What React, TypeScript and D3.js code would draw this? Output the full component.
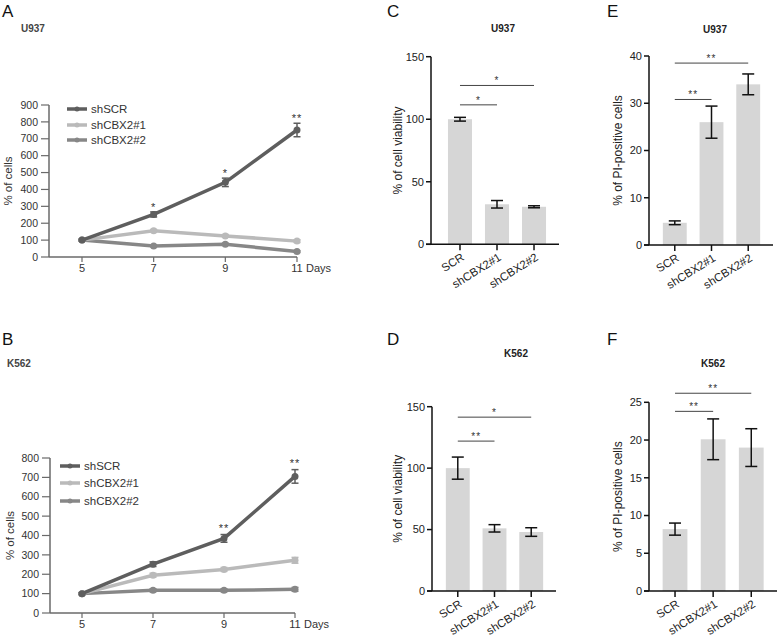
import React from "react";
import * as d3 from "d3";

const days = [5, 7, 9, 11];
const seriesNames = ["shSCR", "shCBX2#1", "shCBX2#2"];
const seriesColors = ["#5e5e5e", "#bababa", "#878787"];

// Panel A (U937 growth)
const aSCR = [100, 252, 442, 752];
const aSCRerr = [5, 15, 25, 40];
const aCBX1 = [100, 155, 125, 94];
const aCBX1err = [5, 8, 8, 8];
const aCBX2 = [100, 65, 76, 32];
const aCBX2err = [5, 5, 5, 5];
const aStars = ["", "*", "*", "**"];

// Panel B (K562 growth)
const bSCR = [100, 252, 385, 705];
const bSCRerr = [5, 12, 20, 35];
const bCBX1 = [100, 195, 225, 272];
const bCBX1err = [5, 10, 10, 15];
const bCBX2 = [100, 117, 117, 122];
const bCBX2err = [5, 8, 8, 10];
const bStars = ["", "", "**", "**"];

const barCats = ["SCR", "shCBX2#1", "shCBX2#2"];
const cVals = [100, 32, 30];
const cErr = [1.5, 3, 0.8];
const dVals = [100, 51, 48];
const dErr = [9, 3, 3.5];
const eVals = [4.7, 26, 34];
const eErr = [0.4, 3.4, 2.2];
const fVals = [8.2, 20.1, 19];
const fErr = [0.8, 2.7, 2.5];

const cTicks = [0, 50, 100, 150];
const dTicks = [0, 50, 100, 150];
const eTicks = [0, 10, 20, 30, 40];
const fTicks = [0, 5, 10, 15, 20, 25];
const aTicks = [0, 100, 200, 300, 400, 500, 600, 700, 800, 900];
const bTicks = [0, 100, 200, 300, 400, 500, 600, 700, 800];

// significance brackets: [fromIdx, toIdx, yValue, label]
const cSig: [number, number, number, string][] = [[0, 1, 111.5, "*"], [0, 2, 127, "*"]];
const dSig: [number, number, number, string][] = [[0, 1, 122, "**"], [0, 2, 141.5, "*"]];
const eSig: [number, number, number, string][] = [[0, 1, 30.8, "**"], [0, 2, 38.5, "**"]];
const fSig: [number, number, number, string][] = [[0, 1, 23.8, "**"], [0, 2, 26.2, "**"]];

const FONT = "Liberation Sans, Arial, Helvetica, sans-serif";

type LineProps = {
  title: string;
  titleX: number;
  titleY: number;
  yDomainMax: number;
  yRange: [number, number];
  xRange: [number, number];
  axisX: number;
  ticks: number[];
  series: number[][];
  errs: number[][];
  stars: string[];
  starOffset: number;
  legendX: number;
  legendY: number[];
  labelX: number;
};

function LinePanel(p: LineProps) {
  const y = d3.scaleLinear().domain([0, p.yDomainMax]).range(p.yRange);
  const x = d3.scaleLinear().domain([5, 11]).range(p.xRange);
  const axisY = y(0);
  const axisColor = "#6a6a6a";
  const line = d3
    .line<number>()
    .x((_, i) => x(days[i]))
    .y((v) => y(v));
  return (
    <g fontFamily={FONT}>
      <text x={p.titleX} y={p.titleY} fontSize={10} fontWeight="bold" fill="#444">
        {p.title}
      </text>
      {/* y axis */}
      <line x1={p.axisX} x2={p.axisX} y1={y(p.yDomainMax)} y2={axisY} stroke={axisColor} strokeWidth={1.5} />
      {p.ticks.map((t) => (
        <g key={t}>
          <line x1={p.axisX - 8} x2={p.axisX} y1={y(t)} y2={y(t)} stroke={axisColor} strokeWidth={1.2} />
          <text x={p.axisX - 11} y={y(t)} dy="0.35em" textAnchor="end" fontSize={10.5} fill="#333">
            {t}
          </text>
        </g>
      ))}
      {/* x axis */}
      <line x1={p.axisX} x2={x(11)} y1={axisY} y2={axisY} stroke={axisColor} strokeWidth={1.5} />
      {days.map((d) => (
        <g key={d}>
          <line x1={x(d)} x2={x(d)} y1={axisY} y2={axisY + 5} stroke={axisColor} strokeWidth={1.2} />
          <text x={x(d)} y={axisY + 15} textAnchor="middle" fontSize={11} fill="#333">
            {d}
          </text>
        </g>
      ))}
      <text x={x(11) + 9} y={axisY + 15} fontSize={11} fill="#333">
        Days
      </text>
      <text
        transform={`translate(${p.labelX},${(y(p.yDomainMax) + axisY) / 2}) rotate(-90)`}
        textAnchor="middle"
        fontSize={11.5}
        fill="#333"
      >
        % of cells
      </text>
      {/* series, draw in reverse so shSCR on top */}
      {[2, 1, 0].map((si) => (
        <g key={si}>
          <path d={line(p.series[si]) || ""} fill="none" stroke={seriesColors[si]} strokeWidth={3.5} />
          {p.series[si].map((v, i) => (
            <g key={i}>
              <line
                x1={x(days[i])}
                x2={x(days[i])}
                y1={y(v - p.errs[si][i])}
                y2={y(v + p.errs[si][i])}
                stroke={seriesColors[si]}
                strokeWidth={1.5}
              />
              <line x1={x(days[i]) - 3.5} x2={x(days[i]) + 3.5} y1={y(v - p.errs[si][i])} y2={y(v - p.errs[si][i])} stroke={seriesColors[si]} strokeWidth={1.5} />
              <line x1={x(days[i]) - 3.5} x2={x(days[i]) + 3.5} y1={y(v + p.errs[si][i])} y2={y(v + p.errs[si][i])} stroke={seriesColors[si]} strokeWidth={1.5} />
              <circle cx={x(days[i])} cy={y(v)} r={3.5} fill={seriesColors[si]} />
            </g>
          ))}
        </g>
      ))}
      {p.stars.map((s, i) =>
        s ? (
          <text key={i} x={x(days[i])} y={y(p.series[0][i] + p.errs[0][i]) + p.starOffset} textAnchor="middle" fontSize={11} letterSpacing={1} fill="#333">
            {s}
          </text>
        ) : null
      )}
      {/* legend */}
      {seriesNames.map((n, i) => (
        <g key={n}>
          <line x1={p.legendX} x2={p.legendX + 20} y1={p.legendY[i]} y2={p.legendY[i]} stroke={seriesColors[i]} strokeWidth={3.5} />
          <circle cx={p.legendX + 10} cy={p.legendY[i]} r={2.5} fill={seriesColors[i]} />
          <text x={p.legendX + 24} y={p.legendY[i]} dy="0.35em" fontSize={11.5} fill="#333">
            {n}
          </text>
        </g>
      ))}
    </g>
  );
}

type BarProps = {
  title: string;
  titleX: number;
  titleY: number;
  yMax: number;
  yRange: [number, number];
  xRange: [number, number];
  axisX: number;
  ticks: number[];
  vals: number[];
  errs: number[];
  sig: [number, number, number, string][];
  yLabel: string;
  labelX: number;
};

function BarPanel(p: BarProps) {
  const y = d3.scaleLinear().domain([0, p.yMax]).range(p.yRange);
  const x = d3.scaleBand<string>().domain(barCats).range(p.xRange).paddingInner(0.35).paddingOuter(0.35);
  const axisY = y(0);
  const bw = x.bandwidth();
  const cx = (c: string) => (x(c) as number) + bw / 2;
  return (
    <g fontFamily={FONT}>
      <text x={p.titleX} y={p.titleY} textAnchor="middle" fontSize={10} fontWeight="bold" fill="#222">
        {p.title}
      </text>
      {p.vals.map((v, i) => (
        <rect key={i} x={x(barCats[i])} y={y(v)} width={bw} height={axisY - y(v)} fill="#d6d6d6" />
      ))}
      {p.vals.map((v, i) => {
        const c = cx(barCats[i]);
        const lo = y(v - p.errs[i]);
        const hi = y(v + p.errs[i]);
        return (
          <g key={i} stroke="#111" strokeWidth={1.5}>
            <line x1={c} x2={c} y1={lo} y2={hi} />
            <line x1={c - 6} x2={c + 6} y1={lo} y2={lo} />
            <line x1={c - 6} x2={c + 6} y1={hi} y2={hi} />
          </g>
        );
      })}
      {/* axes */}
      <line x1={p.axisX} x2={p.axisX} y1={y(p.yMax)} y2={axisY} stroke="#111" strokeWidth={1.5} />
      {p.ticks.map((t) => (
        <g key={t}>
          <line x1={p.axisX - 5} x2={p.axisX} y1={y(t)} y2={y(t)} stroke="#111" strokeWidth={1.5} />
          <text x={p.axisX - 7} y={y(t)} dy="0.35em" textAnchor="end" fontSize={11} fill="#222">
            {t}
          </text>
        </g>
      ))}
      <line x1={p.axisX - 5} x2={p.xRange[1]} y1={axisY} y2={axisY} stroke="#111" strokeWidth={1.5} />
      {barCats.map((c) => (
        <g key={c}>
          <line x1={cx(c)} x2={cx(c)} y1={axisY} y2={axisY + 6} stroke="#111" strokeWidth={1.5} />
          <text transform={`translate(${cx(c) + 5},${axisY + 15}) rotate(-32)`} textAnchor="end" fontSize={11.5} fill="#222">
            {c}
          </text>
        </g>
      ))}
      <text
        transform={`translate(${p.labelX},${(y(p.yMax) + axisY) / 2}) rotate(-90)`}
        textAnchor="middle"
        fontSize={12}
        fill="#222"
      >
        {p.yLabel}
      </text>
      {p.sig.map(([a, b, v, s], i) => (
        <g key={i}>
          <line x1={cx(barCats[a])} x2={cx(barCats[b])} y1={y(v)} y2={y(v)} stroke="#444" strokeWidth={1} />
          <text x={(cx(barCats[a]) + cx(barCats[b])) / 2} y={y(v) - 1} textAnchor="middle" fontSize={10} letterSpacing={1} fill="#333">
            {s}
          </text>
        </g>
      ))}
    </g>
  );
}

export default function App() {
  return (
    <svg
      width={780}
      height={637}
      style={{ position: "absolute", left: 0, top: 0, background: "#fff" }}
      fontFamily={FONT}
    >
      <rect width={780} height={637} fill="#fff" />
      {[
        ["A", 2, 17],
        ["B", 2, 345],
        ["C", 387, 17],
        ["D", 387, 345],
        ["E", 607, 17],
        ["F", 607, 345],
      ].map(([l, x, yy]) => (
        <text key={l as string} x={x as number} y={yy as number} fontSize={17} fill="#111">
          {l}
        </text>
      ))}
      <LinePanel
        title="U937"
        titleX={21}
        titleY={32}
        yDomainMax={900}
        yRange={[257, 105]}
        xRange={[82, 297]}
        axisX={49}
        ticks={aTicks}
        series={[aSCR, aCBX1, aCBX2]}
        errs={[aSCRerr, aCBX1err, aCBX2err]}
        stars={aStars}
        starOffset={-1}
        legendX={67}
        legendY={[109, 125, 140]}
        labelX={12}
      />
      <LinePanel
        title="K562"
        titleX={7}
        titleY={367}
        yDomainMax={800}
        yRange={[613, 458]}
        xRange={[82, 295]}
        axisX={50}
        ticks={bTicks}
        series={[bSCR, bCBX1, bCBX2]}
        errs={[bSCRerr, bCBX1err, bCBX2err]}
        stars={bStars}
        starOffset={-3}
        legendX={60}
        legendY={[466, 483, 501]}
        labelX={14}
      />
      <BarPanel
        title="U937"
        titleX={503}
        titleY={32}
        yMax={150}
        yRange={[244.3, 56.7]}
        xRange={[435, 559]}
        axisX={431}
        ticks={cTicks}
        vals={cVals}
        errs={cErr}
        sig={cSig}
        yLabel="% of cell viability"
        labelX={402}
      />
      <BarPanel
        title="K562"
        titleX={516}
        titleY={357}
        yMax={150}
        yRange={[591, 406.7]}
        xRange={[433, 556]}
        axisX={432}
        ticks={dTicks}
        vals={dVals}
        errs={dErr}
        sig={dSig}
        yLabel="% of  cell viability"
        labelX={402}
      />
      <BarPanel
        title="U937"
        titleX={715}
        titleY={33}
        yMax={40}
        yRange={[245, 56]}
        xRange={[650, 773]}
        axisX={649}
        ticks={eTicks}
        vals={eVals}
        errs={eErr}
        sig={eSig}
        yLabel="% of PI-positive cells"
        labelX={622}
      />
      <BarPanel
        title="K562"
        titleX={713}
        titleY={367}
        yMax={25}
        yRange={[591, 402.3]}
        xRange={[649.3, 777]}
        axisX={649}
        ticks={fTicks}
        vals={fVals}
        errs={fErr}
        sig={fSig}
        yLabel="% of PI-positive cells"
        labelX={622}
      />
    </svg>
  );
}
